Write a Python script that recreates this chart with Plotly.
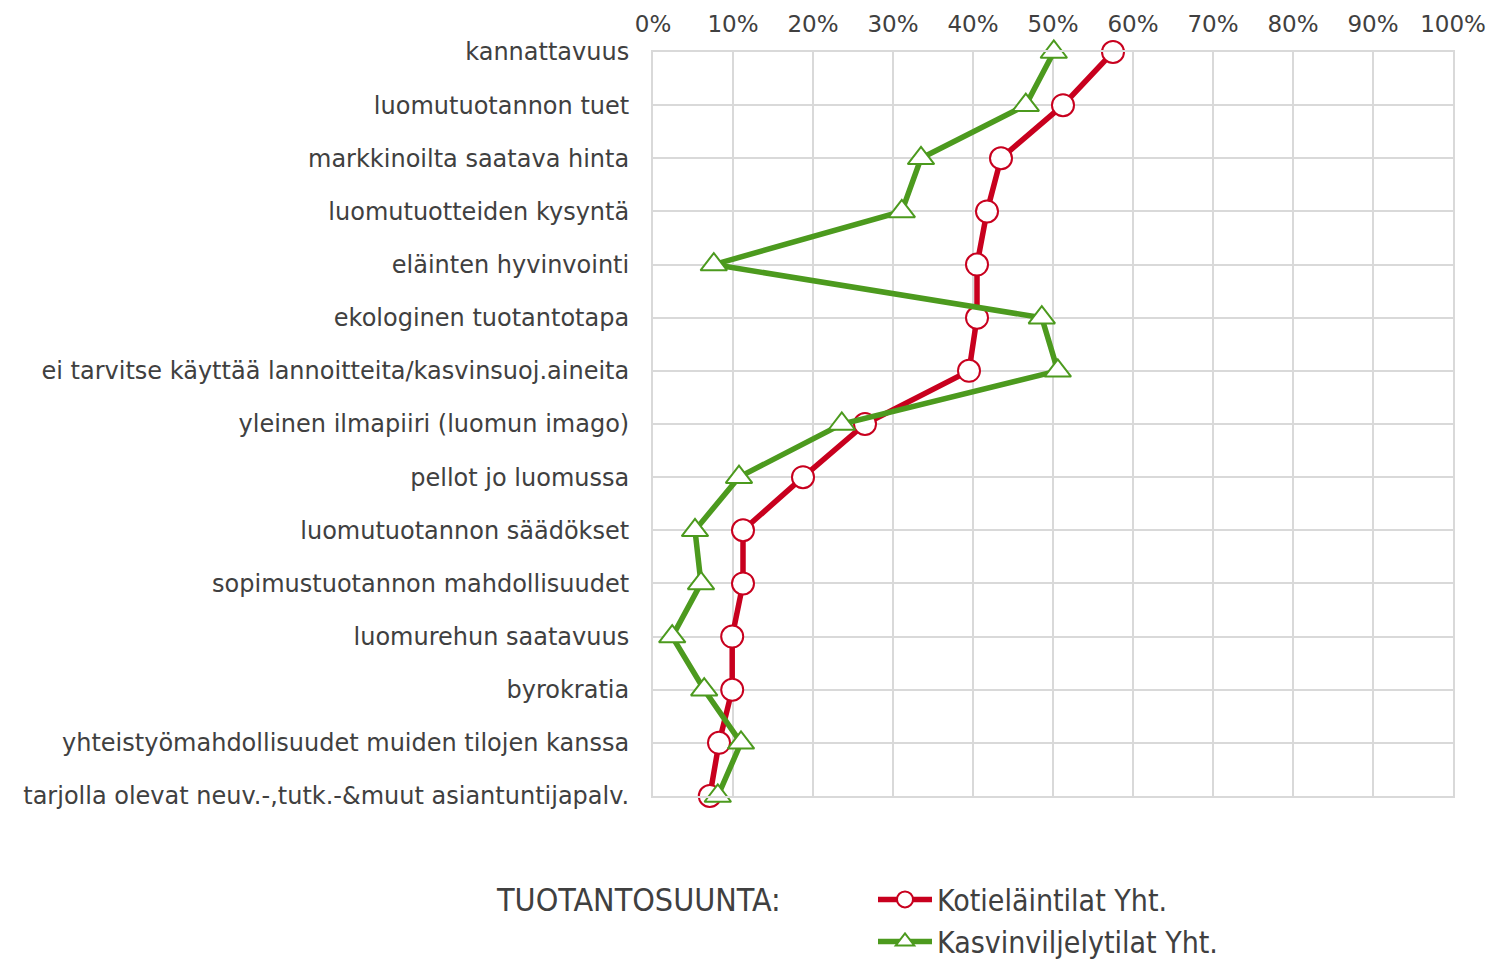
import plotly.graph_objects as go

categories = [
    "kannattavuus",
    "luomutuotannon tuet",
    "markkinoilta saatava hinta",
    "luomutuotteiden kysyntä",
    "eläinten hyvinvointi",
    "ekologinen tuotantotapa",
    "ei tarvitse käyttää lannoitteita/kasvinsuoj.aineita",
    "yleinen ilmapiiri (luomun imago)",
    "pellot jo luomussa",
    "luomutuotannon säädökset",
    "sopimustuotannon mahdollisuudet",
    "luomurehun saatavuus",
    "byrokratia",
    "yhteistyömahdollisuudet muiden tilojen kanssa",
    "tarjolla olevat neuv.-,tutk.-&muut asiantuntijapalv.",
]

kotielain = [0.575, 0.5125, 0.435, 0.4175, 0.405, 0.405, 0.395, 0.265, 0.1875,
             0.1125, 0.1125, 0.099, 0.099, 0.0825, 0.071]
kasvinviljely = [0.501, 0.466, 0.335, 0.311, 0.076, 0.486, 0.506, 0.236, 0.1075,
                 0.0525, 0.06, 0.024, 0.064, 0.11, 0.081]

series_names = ["Kotieläintilat Yht.", "Kasvinviljelytilat Yht."]
legend_title = "TUOTANTOSUUNTA:"

RED = "#C8001E"
GREEN = "#4C9A1E"
GRID = "#D9D9D9"
TXT = "#404040"

fig = go.Figure()
fig.add_trace(go.Scatter(
    x=kotielain, y=categories, name=series_names[0], mode="lines+markers",
    line=dict(color=RED, width=5.5),
    marker=dict(symbol="circle", size=22, color="white", line=dict(color=RED, width=2)),
    cliponaxis=False,
))
fig.add_trace(go.Scatter(
    x=kasvinviljely, y=categories, name=series_names[1], mode="lines+markers",
    line=dict(color=GREEN, width=5.5),
    marker=dict(symbol="triangle-up", size=23, color="white", line=dict(color=GREEN, width=2)),
    cliponaxis=False,
))

fig.update_layout(
    width=1487, height=954,
    margin=dict(l=645, r=42, t=44, b=166, autoexpand=False),
    paper_bgcolor="white", plot_bgcolor="white",
    font=dict(family="DejaVu Sans", size=24, color=TXT),
    showlegend=True,
    legend=dict(
        orientation="v", x=0.275, y=-0.104, xanchor="left", yanchor="top",
        font=dict(family="DejaVu Sans Condensed, DejaVu Sans", size=30, color=TXT),
        itemsizing="trace", itemwidth=54, tracegroupgap=0, maxheight=300,
    ),
    annotations=[dict(
        text=legend_title, xref="paper", yref="paper", x=-0.199, y=-0.14,
        xanchor="left", yanchor="middle", showarrow=False,
        font=dict(family="DejaVu Sans Condensed, DejaVu Sans", size=32, color=TXT),
    )],
)
fig.update_xaxes(
    side="top", range=[0, 1], dtick=0.1, tickformat=".0%",
    showgrid=True, gridcolor=GRID, gridwidth=2,
    zeroline=True, zerolinecolor=GRID, zerolinewidth=2,
    showline=True, mirror=True, linecolor=GRID, linewidth=2,
    ticks="", ticklabelstandoff=9, automargin=False,
    tickfont=dict(size=23, color=TXT),
)
fig.update_yaxes(
    type="category", categoryorder="array", categoryarray=categories,
    range=[len(categories) - 1, 0],
    showgrid=True, gridcolor=GRID, gridwidth=2,
    showline=True, mirror=True, linecolor=GRID, linewidth=2,
    ticks="", ticklabelstandoff=17, automargin=False,
    tickfont=dict(size=24, color=TXT),
)

fig.write_html("out.html")
